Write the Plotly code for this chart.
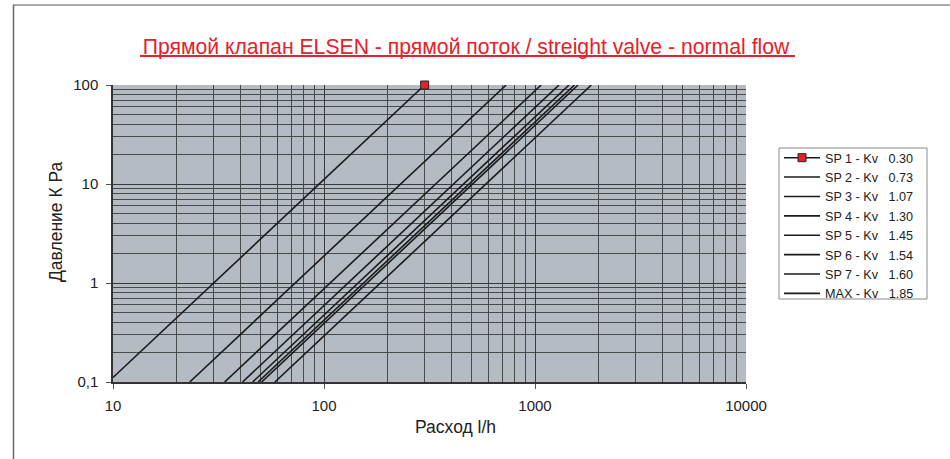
import plotly.graph_objects as go

# ---- data ----
series_names = ["SP 1 - Kv", "SP 2 - Kv", "SP 3 - Kv", "SP 4 - Kv",
                "SP 5 - Kv", "SP 6 - Kv", "SP 7 - Kv", "MAX - Kv"]
kv_labels = ["0.30", "0.73", "1.07", "1.30", "1.45", "1.54", "1.60", "1.85"]
flow_start = [10, 23.1, 33.8, 41.1, 45.9, 48.7, 50.6, 58.5]      # l/h
flow_end = [300, 730, 1070, 1300, 1450, 1540, 1600, 1850]        # l/h
dp_start = [0.111, 0.1, 0.1, 0.1, 0.1, 0.1, 0.1, 0.1]            # kPa
dp_end = [100, 100, 100, 100, 100, 100, 100, 100]                # kPa

x_major = [10, 100, 1000, 10000]
x_major_text = ["10", "100", "1000", "10000"]
y_major = [0.1, 1, 10, 100]
y_major_text = ["0,1", "1", "10", "100"]
x_minor = [m * d for d in (10, 100, 1000) for m in range(2, 10)]
y_minor = [m * d for d in (0.1, 1, 10) for m in range(2, 10)]

title_text = "Прямой клапан ELSEN - прямой поток / streight valve - normal flow"
x_title = "Расход l/h"
y_title = "Давление К Ра"

# ---- figure ----
W, H = 950, 459
L, R, T, B = 113, 746, 85, 382


def px_x(p):
    return (p - L) / (R - L)


def px_y(p):
    return (B - p) / (B - T)


FONT = "Liberation Sans, Arial, sans-serif"
fig = go.Figure()

for i, name in enumerate(series_names):
    label = f"{name}\u00a0\u00a0\u00a0{kv_labels[i]}"
    xs = [flow_start[i], flow_end[i]]
    ys = [dp_start[i], dp_end[i]]
    if i == 0:
        fig.add_trace(go.Scatter(x=xs, y=ys, mode="lines", showlegend=False,
                                 line=dict(color="#1a1a1a", width=1.6),
                                 hoverinfo="skip"))
        fig.add_trace(go.Scatter(x=xs[-1:], y=ys[-1:], mode="lines+markers",
                                 name=label, cliponaxis=False,
                                 line=dict(color="#1a1a1a", width=1.6),
                                 marker=dict(symbol="square", size=8,
                                             color="#e8202a",
                                             line=dict(color="#222", width=1))))
    else:
        fig.add_trace(go.Scatter(x=xs, y=ys, mode="lines", name=label,
                                 line=dict(color="#1a1a1a", width=1.6)))

fig.update_layout(
    width=W, height=H,
    margin=dict(l=L, r=W - R, t=T, b=H - B, autoexpand=False),
    paper_bgcolor="white",
    plot_bgcolor="#b5bbc3",
    font=dict(family=FONT, color="#222"),
    title=dict(text=title_text, x=px_x(466), xref="paper", xanchor="center",
               y=1 - 47 / H, yanchor="middle", yref="container",
               font=dict(size=21.2, color="#e8202a", family=FONT)),
    legend=dict(x=px_x(779), y=px_y(143), xanchor="left", yanchor="top",
                bgcolor="rgba(0,0,0,0)", borderwidth=0,
                font=dict(size=12.6, color="#222", family=FONT),
                tracegroupgap=0, itemwidth=36),
    showlegend=True,
)

fig.update_xaxes(
    type="log", range=[1, 4],
    tickmode="array", tickvals=x_major, ticktext=x_major_text,
    tickfont=dict(size=15, color="#222"),
    ticks="outside", ticklen=5, tickcolor="#555", ticklabelstandoff=4,
    showgrid=True, gridcolor="#3a3a3a", gridwidth=1,
    minor=dict(tickmode="array", tickvals=x_minor, showgrid=True,
               gridcolor="#4a4a4a", gridwidth=1, ticks=""),
    showline=True, linecolor="#333", linewidth=1.5, mirror=False,
    zeroline=False,
)
fig.update_yaxes(
    type="log", range=[-1, 2],
    tickmode="array", tickvals=y_major, ticktext=y_major_text,
    tickfont=dict(size=15, color="#222"),
    ticks="outside", ticklen=5, tickcolor="#555", ticklabelstandoff=5,
    showgrid=True, gridcolor="#3a3a3a", gridwidth=1,
    minor=dict(tickmode="array", tickvals=y_minor, showgrid=True,
               gridcolor="#4a4a4a", gridwidth=1, ticks=""),
    showline=True, linecolor="#333", linewidth=1.5, mirror=False,
    zeroline=False,
)

# axis titles
fig.add_annotation(text=x_title, x=px_x(455), y=px_y(427), xref="paper",
                   yref="paper", showarrow=False, xanchor="center",
                   yanchor="middle", font=dict(size=17.5, color="#222"))
fig.add_annotation(text=y_title, x=px_x(56), y=px_y(222), xref="paper",
                   yref="paper", showarrow=False, xanchor="center",
                   yanchor="middle", textangle=-90,
                   font=dict(size=17.5, color="#222"))

# legend frame
fig.add_shape(type="rect", xref="paper", yref="paper", layer="below",
              x0=px_x(779), x1=px_x(927), y0=px_y(148), y1=px_y(299),
              line=dict(color="#8a8a8a", width=1), fillcolor="white")

# title underline and outer frame
fig.add_shape(type="line", xref="paper", yref="paper",
              x0=px_x(140), x1=px_x(795), y0=px_y(56), y1=px_y(56),
              line=dict(color="#e8202a", width=2))
fig.add_shape(type="line", xref="paper", yref="paper",
              x0=px_x(13), x1=px_x(950), y0=px_y(5), y1=px_y(5),
              line=dict(color="#aaaaaa", width=2))
fig.add_shape(type="line", xref="paper", yref="paper",
              x0=px_x(13.5), x1=px_x(13.5), y0=px_y(5), y1=px_y(459),
              line=dict(color="#666666", width=1.5))

fig.write_html("out.html",
               config={"displayModeBar": False},
               post_script="document.body.style.margin='0';"
                           "document.body.style.overflow='hidden';")
